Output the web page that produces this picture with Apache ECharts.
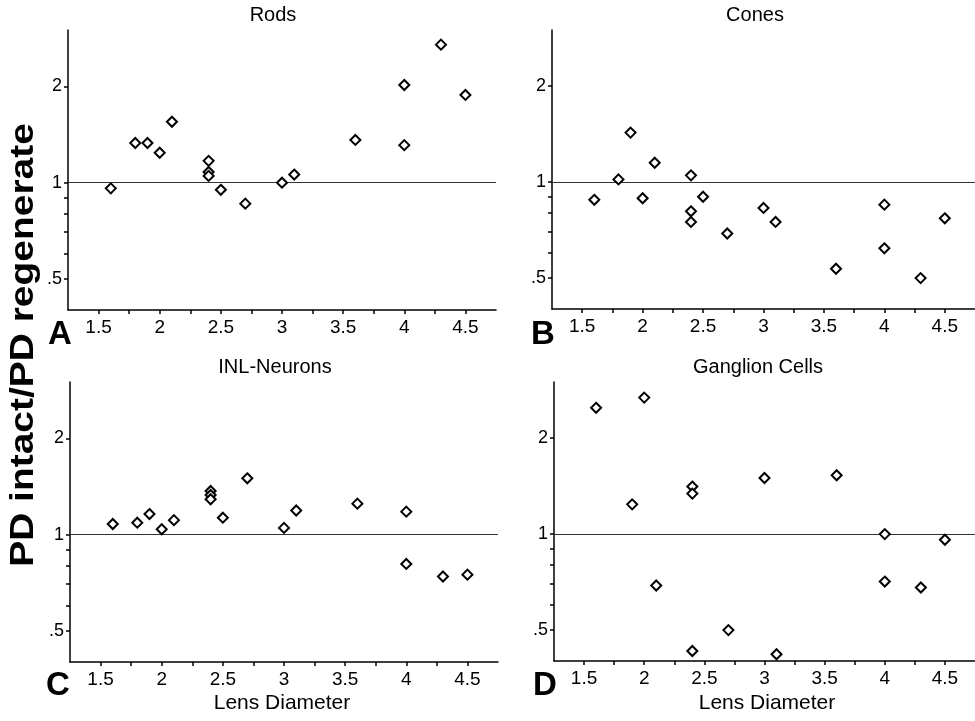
<!DOCTYPE html>
<html>
<head>
<meta charset="utf-8">
<style>
  html, body { margin: 0; padding: 0; background: #fff; }
  #chart { width: 975px; height: 721px; }
</style>
<script src="https://cdn.jsdelivr.net/npm/echarts@6/dist/echarts.min.js"></script>
</head>
<body>
<div id="chart"></div>
<script>
// lens diameter (x) and PD intact / PD regenerate (y) for each cell type
var rodsX = [1.6, 1.8, 1.9, 2.0, 2.1, 2.4, 2.4, 2.4, 2.5, 2.7, 3.0, 3.1, 3.6, 4.0, 4.0, 4.3, 4.5];
var rodsY = [0.96, 1.33, 1.33, 1.24, 1.55, 1.17, 1.08, 1.05, 0.95, 0.86, 1.0, 1.06, 1.36, 2.02, 1.31, 2.70, 1.88];

var conesX = [1.6, 1.8, 1.9, 2.0, 2.1, 2.4, 2.4, 2.4, 2.5, 2.7, 3.0, 3.1, 3.6, 4.0, 4.0, 4.3, 4.5];
var conesY = [0.88, 1.02, 1.43, 0.89, 1.15, 1.05, 0.81, 0.75, 0.90, 0.69, 0.83, 0.75, 0.535, 0.85, 0.62, 0.50, 0.77];

var inlX = [1.6, 1.8, 1.9, 2.0, 2.1, 2.4, 2.4, 2.4, 2.5, 2.7, 3.0, 3.1, 3.6, 4.0, 4.0, 4.3, 4.5];
var inlY = [1.08, 1.09, 1.16, 1.04, 1.11, 1.37, 1.33, 1.29, 1.13, 1.50, 1.05, 1.19, 1.25, 1.18, 0.81, 0.74, 0.75];

var ganglionX = [1.6, 1.9, 2.0, 2.1, 2.4, 2.4, 2.4, 2.7, 3.0, 3.1, 3.6, 4.0, 4.0, 4.3, 4.5];
var ganglionY = [2.49, 1.24, 2.68, 0.69, 1.41, 1.34, 0.43, 0.50, 1.50, 0.42, 1.53, 1.0, 0.71, 0.68, 0.96];

var panelTitles = ["Rods", "Cones", "INL-Neurons", "Ganglion Cells"];
var panelLetters = ["A", "B", "C", "D"];
var yLabelValues = [0.5, 1, 2];
var yTickValues = [0.5, 0.6, 0.7, 0.8, 0.9, 1, 2];

var FONT = "Liberation Sans";

function pairs(xs, ys) {
  return xs.map(function (x, i) { return [x, ys[i]]; });
}

var chart = echarts.init(document.getElementById("chart"));

// grid positions of the four panels
var grids = [
  { left: 68, top: 30, width: 428, height: 280 },
  { left: 552, top: 30, width: 428, height: 279 },
  { left: 70, top: 382, width: 428, height: 280 },
  { left: 554, top: 382, width: 428, height: 279 }
];

var xAxes = [], yAxes = [], series = [];
var allData = [pairs(rodsX, rodsY), pairs(conesX, conesY), pairs(inlX, inlY), pairs(ganglionX, ganglionY)];

grids.forEach(function (g, i) {
  xAxes.push({
    type: "value",
    gridIndex: i,
    min: 1.25,
    max: 4.75,
    interval: 0.25,
    axisLine: { show: true, lineStyle: { color: "#000", width: 1.5 } },
    axisTick: { show: true, length: 4, lineStyle: { color: "#000", width: 1.5 } },
    splitLine: { show: false },
    axisLabel: {
      color: "#000",
      fontFamily: FONT,
      fontSize: 19,
      margin: 8,
      showMinLabel: false,
      showMaxLabel: false,
      formatter: function (v) {
        return (Math.round(v * 4) % 2 === 0) ? String(v) : "";
      }
    }
  });
  yAxes.push({
    type: "log",
    logBase: 2,
    gridIndex: i,
    min: 0.4,
    max: 3,
    axisLine: { show: true, lineStyle: { color: "#000", width: 1.5 } },
    axisTick: { show: true, length: 4, customValues: yTickValues, lineStyle: { color: "#000", width: 1.5 } },
    splitLine: { show: false },
    minorTick: { show: false },
    axisLabel: {
      color: "#000",
      fontFamily: FONT,
      fontSize: 18,
      margin: 6,
      customValues: yLabelValues,
      formatter: function (v) {
        return v === 0.5 ? ".5" : String(v);
      }
    }
  });
  series.push({
    type: "scatter",
    xAxisIndex: i,
    yAxisIndex: i,
    data: allData[i],
    symbol: "diamond",
    symbolSize: [10, 10],
    itemStyle: { color: "#fff", borderColor: "#000", borderWidth: 2, opacity: 1 },
    z: 3,
    markLine: {
      silent: true,
      symbol: ["none", "none"],
      label: { show: false },
      lineStyle: { color: "#333", width: 1, type: "solid" },
      data: [{ yAxis: 1 }],
      z: 1
    }
  });
});

var titles = [
  { text: panelTitles[0], left: 273, top: 5 },
  { text: panelTitles[1], left: 755, top: 5 },
  { text: panelTitles[2], left: 275, top: 357 },
  { text: panelTitles[3], left: 758, top: 357 }
].map(function (t) {
  return {
    text: t.text, left: t.left, top: t.top, textAlign: "center", padding: 0,
    textStyle: { fontFamily: FONT, fontSize: 20, fontWeight: "normal", color: "#000" }
  };
});

var letterPos = [[48, 318], [531, 318], [46, 669], [533, 669]];
letterPos.forEach(function (p, i) {
  titles.push({
    text: panelLetters[i], left: p[0], top: p[1], padding: 0,
    textStyle: { fontFamily: FONT, fontSize: 33, fontWeight: "bold", color: "#000" }
  });
});

titles.push({
  text: "Lens Diameter", left: 282, top: 693, textAlign: "center", padding: 0,
  textStyle: { fontFamily: FONT, fontSize: 21, fontWeight: "normal", color: "#000" }
});
titles.push({
  text: "Lens Diameter", left: 767, top: 693, textAlign: "center", padding: 0,
  textStyle: { fontFamily: FONT, fontSize: 21, fontWeight: "normal", color: "#000" }
});

var option = {
  animation: false,
  backgroundColor: "#fff",
  title: titles,
  grid: grids,
  xAxis: xAxes,
  yAxis: yAxes,
  series: series,
  graphic: [{
    type: "text",
    x: 24,
    y: 345,
    rotation: Math.PI / 2,
    scaleX: 1.18,
    style: {
      text: "PD intact/PD regenerate",
      fontFamily: FONT,
      fontSize: 33,
      fontWeight: "bold",
      fill: "#000",
      align: "center",
      verticalAlign: "middle"
    }
  }]
};

chart.setOption(option);
</script>
</body>
</html>
